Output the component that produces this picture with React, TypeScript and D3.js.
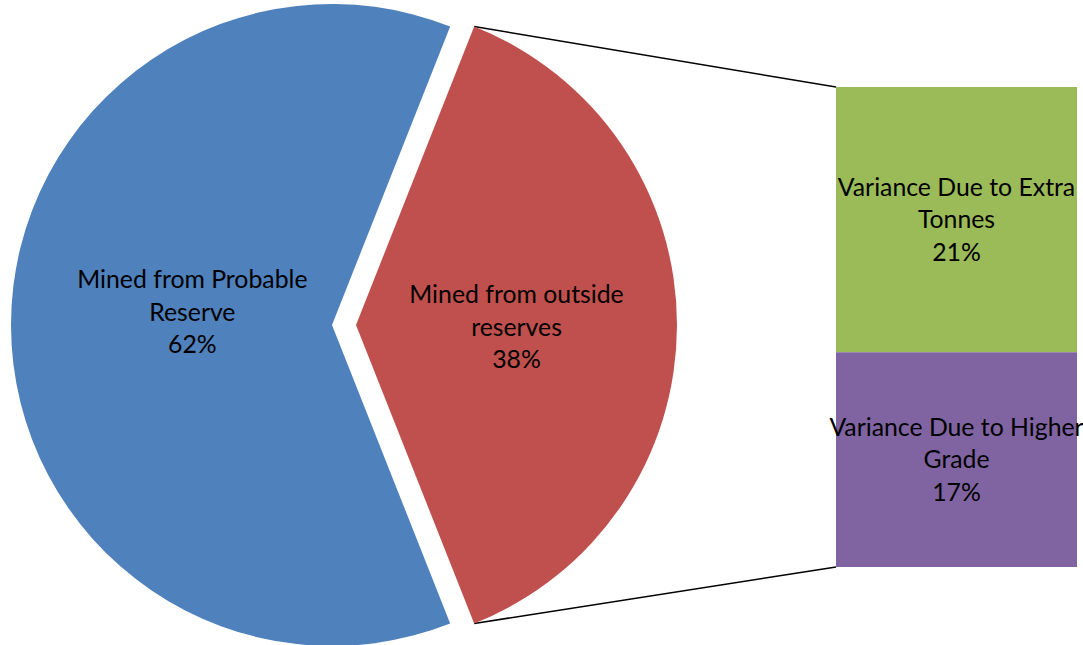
import React from "react";
import * as d3 from "d3";

const pieCategories = ["Mined from outside reserves", "Mined from Probable Reserve"];
const pieLabelLines = [["Mined from outside", "reserves"], ["Mined from Probable", "Reserve"]];
const pieValues = [38, 62];
const pieColors = ["#C0504D", "#4F81BD"];

const barCategories = ["Variance Due to Extra Tonnes", "Variance Due to Higher Grade"];
const barLabelLines = [["Variance Due to Extra", "Tonnes"], ["Variance Due to Higher", "Grade"]];
const barValues = [21, 17];
const barColors = ["#9BBB59", "#8064A2"];

const W = 1083;
const H = 645;
const cx = 332;
const cy = 325;
const R = 321;
const explode = 24;
const labelFrac = [0.5, 0.435];

const barX0 = 836;
const barX1 = 1077;
const barTop = 87;
const barBottom = 567;

const font = "Lato, 'Open Sans', sans-serif";
const fs = 24.8;
const lh = 32.5;

export default function App() {
  const total = d3.sum(pieValues);
  const half = (pieValues[0] / total) * Math.PI;
  const start = Math.PI / 2 - half;
  const pie = d3
    .pie<number>()
    .sort(null)
    .value((d) => d)
    .startAngle(start)
    .endAngle(start + 2 * Math.PI);
  const arcs = pie(pieValues);
  const arc = d3.arc<d3.PieArcDatum<number>>().innerRadius(0).outerRadius(R);

  const barTotal = d3.sum(barValues);
  const y = d3.scaleLinear().domain([0, barTotal]).range([barTop, barBottom]);
  let acc = 0;
  const bars = barValues.map((v, i) => {
    const y0 = y(acc);
    acc += v;
    const y1 = y(acc);
    return { v, i, y0, y1 };
  });

  const redMid = (arcs[0].startAngle + arcs[0].endAngle) / 2;
  const ox = Math.sin(redMid) * explode;
  const oy = -Math.cos(redMid) * explode;
  const rcx = cx + ox;
  const rcy = cy + oy;
  const pTop = [rcx + Math.sin(arcs[0].startAngle) * R, rcy - Math.cos(arcs[0].startAngle) * R];
  const pBot = [rcx + Math.sin(arcs[0].endAngle) * R, rcy - Math.cos(arcs[0].endAngle) * R];

  return (
    <svg width={W} height={H} style={{ position: "absolute", left: 0, top: 0 }}>
      <rect width={W} height={H} fill="#fff" />
      <line x1={pTop[0]} y1={pTop[1]} x2={barX0} y2={barTop} stroke="#000" strokeWidth={1.5} />
      <line x1={pBot[0]} y1={pBot[1]} x2={barX0} y2={barBottom} stroke="#000" strokeWidth={1.5} />
      {arcs.map((a, i) => {
        const off = i === 0 ? [ox, oy] : [0, 0];
        const mid = (a.startAngle + a.endAngle) / 2;
        const lr = R * labelFrac[i];
        const lx = cx + off[0] + Math.sin(mid) * lr;
        const ly = cy + off[1] - Math.cos(mid) * lr + (i === 1 ? -13 : 2);
        const lines = [...pieLabelLines[i], `${pieValues[i]}%`];
        return (
          <g key={pieCategories[i]}>
            <path d={arc(a) || ""} transform={`translate(${cx + off[0]},${cy + off[1]})`} fill={pieColors[i]} />
            <text x={lx} y={ly} textAnchor="middle" fontFamily={font} fontSize={fs} fill="#000">
              {lines.map((t, k) => (
                <tspan key={k} x={lx} y={ly + (k - 1) * lh} dy="0.35em">
                  {t}
                </tspan>
              ))}
            </text>
          </g>
        );
      })}
      {bars.map((b) => {
        const lx = (barX0 + barX1) / 2;
        const ly = (b.y0 + b.y1) / 2;
        const lines = [...barLabelLines[b.i], `${b.v}%`];
        return (
          <g key={barCategories[b.i]}>
            <rect x={barX0} y={b.y0} width={barX1 - barX0} height={b.y1 - b.y0} fill={barColors[b.i]} />
            <text x={lx} y={ly} textAnchor="middle" fontFamily={font} fontSize={fs} fill="#000">
              {lines.map((t, k) => (
                <tspan key={k} x={lx} y={ly + (k - 1) * lh} dy="0.35em">
                  {t}
                </tspan>
              ))}
            </text>
          </g>
        );
      })}
    </svg>
  );
}
